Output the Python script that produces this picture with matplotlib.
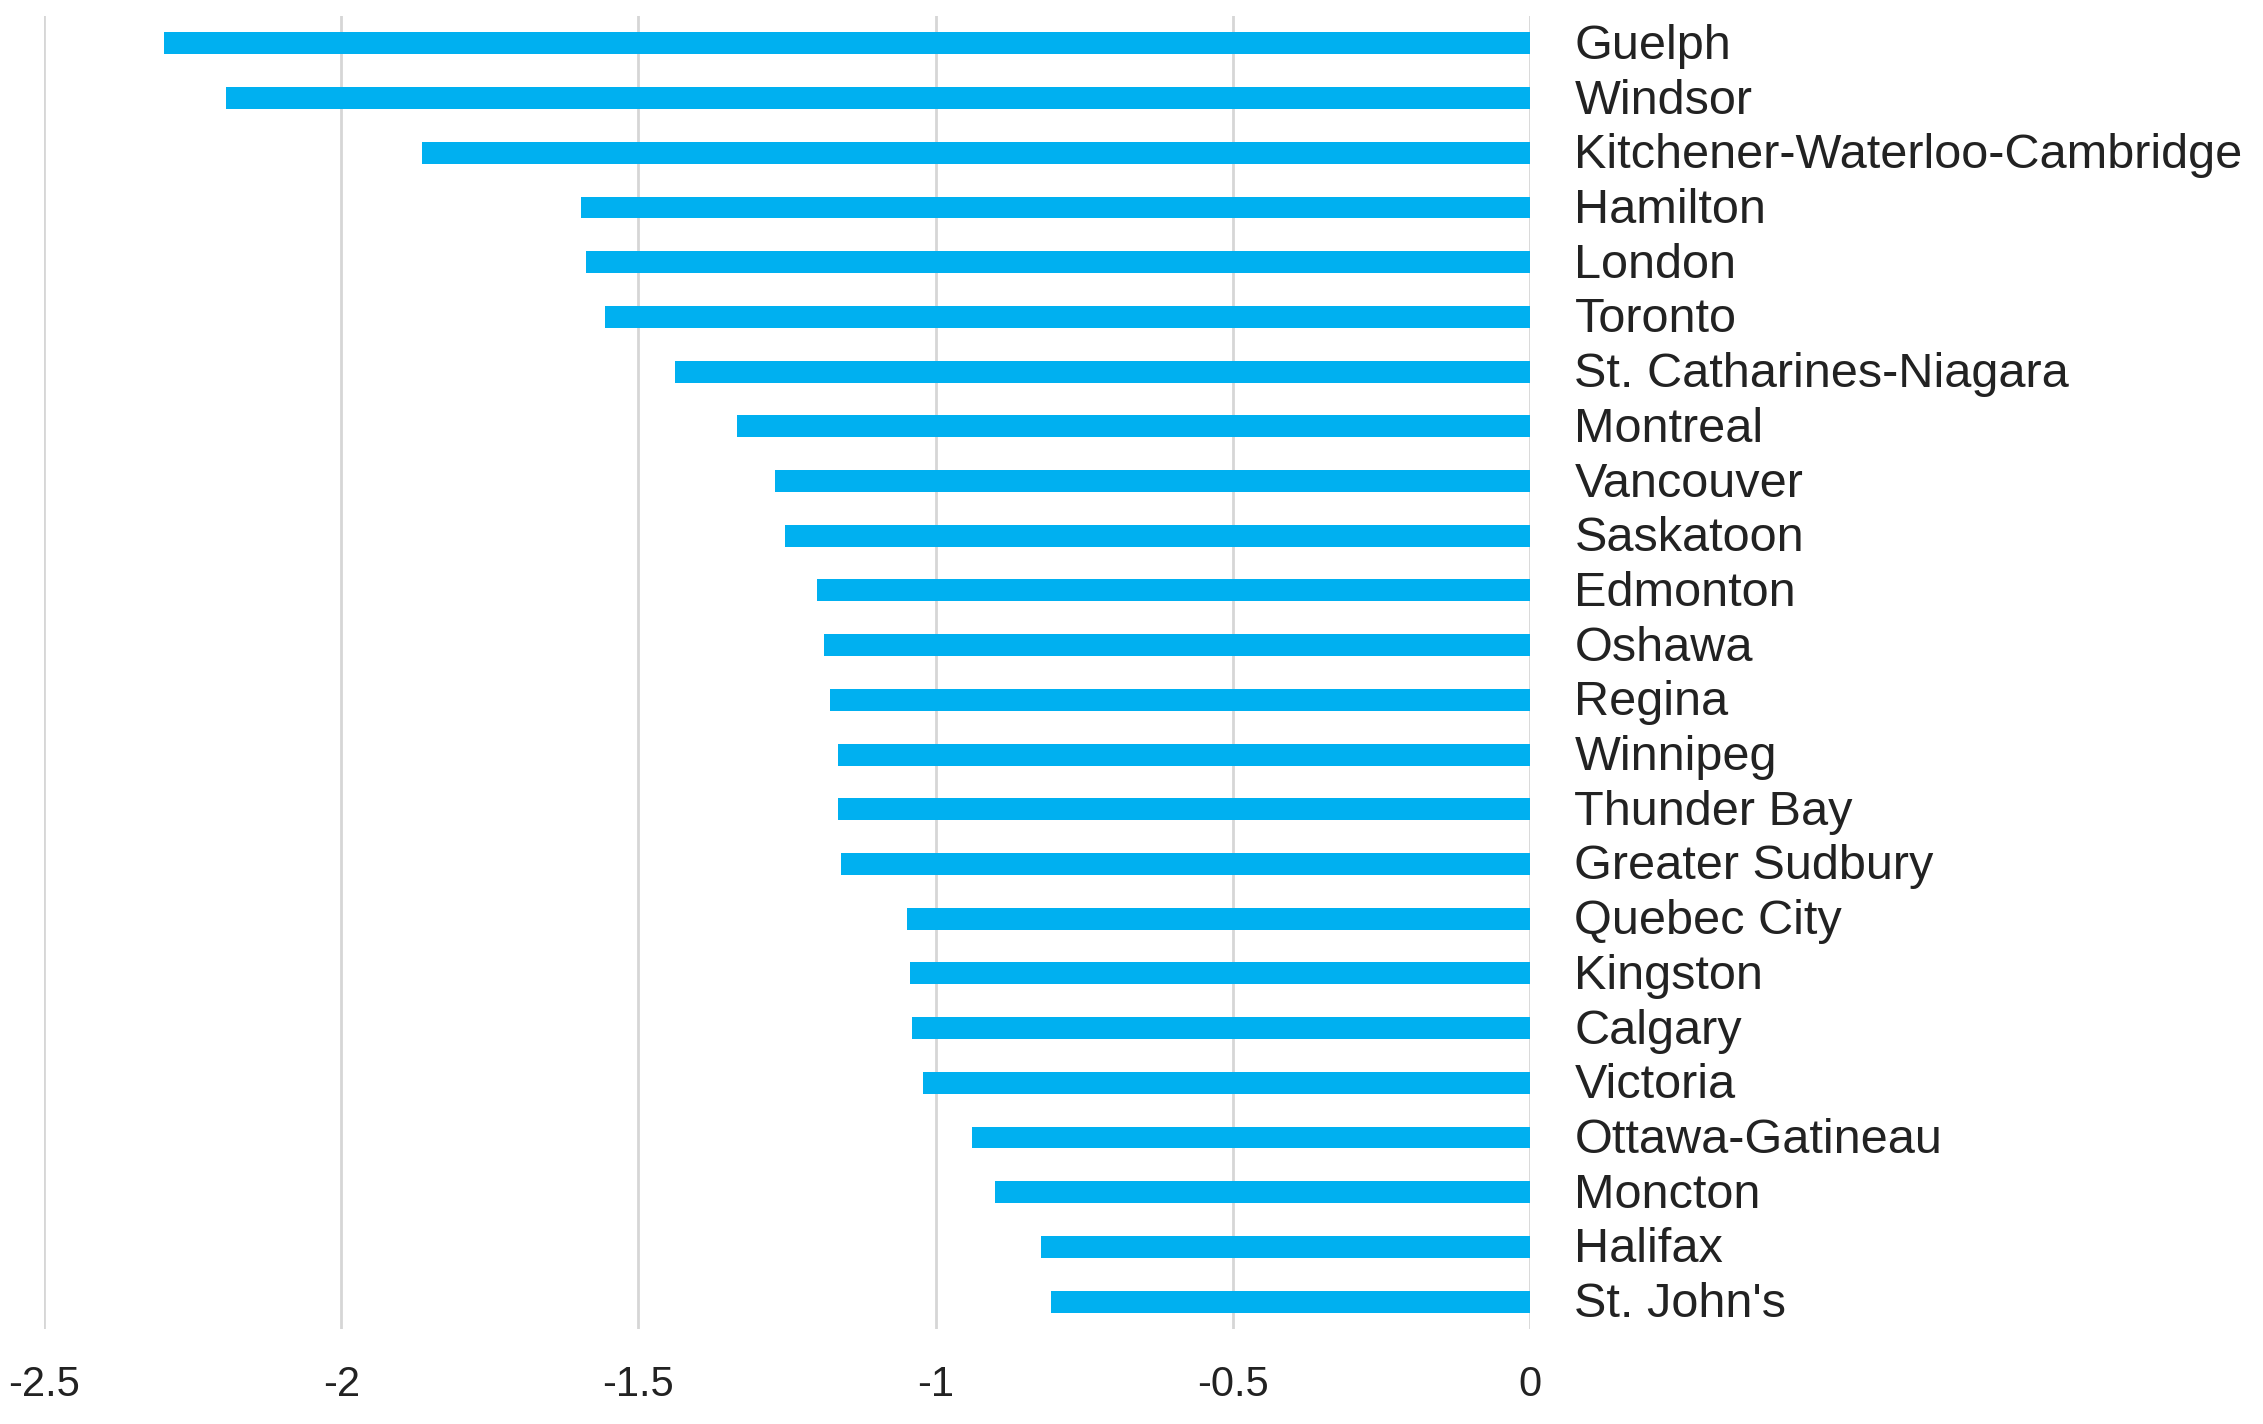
import matplotlib
matplotlib.use("Agg")
import matplotlib.pyplot as plt
from matplotlib.transforms import ScaledTranslation

cities = ["Guelph", "Windsor", "Kitchener-Waterloo-Cambridge", "Hamilton", "London",
          "Toronto", "St. Catharines-Niagara", "Montreal", "Vancouver", "Saskatoon",
          "Edmonton", "Oshawa", "Regina", "Winnipeg", "Thunder Bay", "Greater Sudbury",
          "Quebec City", "Kingston", "Calgary", "Victoria", "Ottawa-Gatineau", "Moncton",
          "Halifax", "St. John's"]
values = [-2.298, -2.193, -1.864, -1.597, -1.588, -1.557, -1.438, -1.334, -1.270, -1.254,
          -1.200, -1.188, -1.178, -1.164, -1.164, -1.159, -1.048, -1.043, -1.040, -1.021,
          -0.939, -0.900, -0.823, -0.806]
xticks = [-2.5, -2, -1.5, -1, -0.5, 0]
xtick_labels = ["-2.5", "-2", "-1.5", "-1", "-0.5", "0"]

plt.rcParams['font.family'] = ['Liberation Sans', 'DejaVu Sans']
plt.rcParams['axes.unicode_minus'] = False

W, H = 2263, 1424
fig = plt.figure(figsize=(W / 100, H / 100), dpi=100)
left, right, top, bottom = 44, 1530, 16, 1329
ax = fig.add_axes([left / W, 1 - bottom / H, (right - left) / W, (bottom - top) / H])

y = list(range(len(cities)))
ax.barh(y, values, height=0.40, color="#00B0F0", zorder=3)

ax.set_xlim(-2.5, 0)
ax.set_ylim(len(cities) - 0.5, -0.5)
ax.set_xticks(xticks)
ax.set_xticklabels(xtick_labels)
ax.grid(axis="x", color="#d6d6d6", linewidth=2.0, zorder=0)
ax.grid(axis="y", visible=False)

ax.set_yticks(y)
ax.set_yticklabels(cities)
ax.yaxis.tick_right()
ax.tick_params(axis="y", length=0, pad=32, labelsize=35, labelcolor="#222222")
ax.tick_params(axis="x", length=0, pad=26, labelsize=30, labelcolor="#222222")

shift = ScaledTranslation(0, 2 / 100, fig.dpi_scale_trans)
for lab in ax.get_yticklabels():
    lab.set_transform(lab.get_transform() + shift)

for s in ax.spines.values():
    s.set_visible(False)

fig.savefig("out.png", dpi=100, facecolor="white")
